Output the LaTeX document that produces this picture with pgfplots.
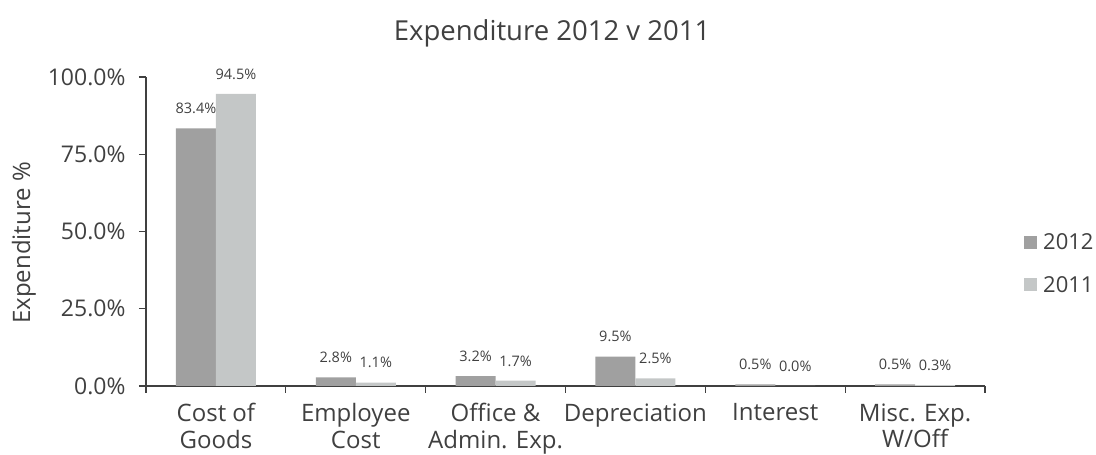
\documentclass[border=0pt]{standalone}
\usepackage{pgfplots}
\pgfplotsset{compat=1.18}
\usepackage{fontspec}
\setmainfont{Open Sans}
\definecolor{cA}{HTML}{A0A0A0}
\definecolor{cB}{HTML}{C4C7C7}
\definecolor{txt}{HTML}{404040}
\pgfplotsset{sqlegend/.style={legend image code/.code={\fill[##1] (0pt,-6.5pt) rectangle (13pt,6.5pt);}}}
\begin{document}
\begin{tikzpicture}[x=1pt,y=1pt]
\path[use as bounding box] (0,0) rectangle (1096,455);
\begin{axis}[
  at={(146pt,69pt)}, anchor=south west,
  scale only axis, width=839pt, height=309pt,
  ymin=0, ymax=100, xmin=-0.5, xmax=5.5,
  ybar=0pt, bar width=40pt,
  sqlegend,
  clip=false,
  axis lines=left,
  axis line style={-, txt, line width=1.2pt},
  /pgf/number format/assume math mode=true,
  ytick={0,25,50,75,100},
  yticklabel={\pgfmathprintnumber[fixed,fixed zerofill,precision=1]{\tick}\%},
  xtick={0,1,2,3,4,5},
  xticklabels={{Cost of\\Goods},{Employee\\Cost},{Office \&\\Admin. Exp.},{Depreciation},{Interest},{Misc. Exp.\\W/Off}},
  minor xtick={-0.5,0.5,1.5,2.5,3.5,4.5,5.5},
  tick align=outside,
  major tick length=7pt, minor tick length=7pt,
  major x tick style={draw=none},
  minor x tick style={txt, line width=1.2pt},
  major y tick style={txt, line width=1.2pt},
  yticklabel style={font=\fontsize{23}{27}\selectfont, text=txt, xshift=-10pt},
  xticklabel style={font=\fontsize{24}{26.5}\selectfont, text=txt, align=center, yshift=-7pt},
  nodes near coords={\pgfmathprintnumber[fixed,fixed zerofill,precision=1]{\pgfplotspointmeta}\%},
  nodes near coords style={font=\fontsize{14.5}{16}\selectfont, text=txt, yshift=11pt},
  legend style={at={(1.0465,0.396)}, anchor=west, draw=none, fill=none, inner sep=0pt,
    font=\fontsize{22}{26}\selectfont, text=txt, row sep=21pt,
    nodes={inner xsep=6pt}},
  legend cell align=left,
]
\addplot[fill=cA, draw=none]
  coordinates {(0,83.4) (1,2.8) (2,3.2) (3,9.5) (4,0.5) (5,0.5)};
\addplot[fill=cB, draw=none]
  coordinates {(0,94.5) (1,1.1) (2,1.7) (3,2.5) (4,0.0) (5,0.3)};
\legend{2012,2011}
\end{axis}
\node[font=\fontsize{27.5}{32}\selectfont, text=txt, anchor=base] at (552,414) {Expenditure 2012 v 2011};
\node[rotate=90, font=\fontsize{24}{28}\selectfont, text=txt] at (24,212) {Expenditure \%};
\end{tikzpicture}
\end{document}
